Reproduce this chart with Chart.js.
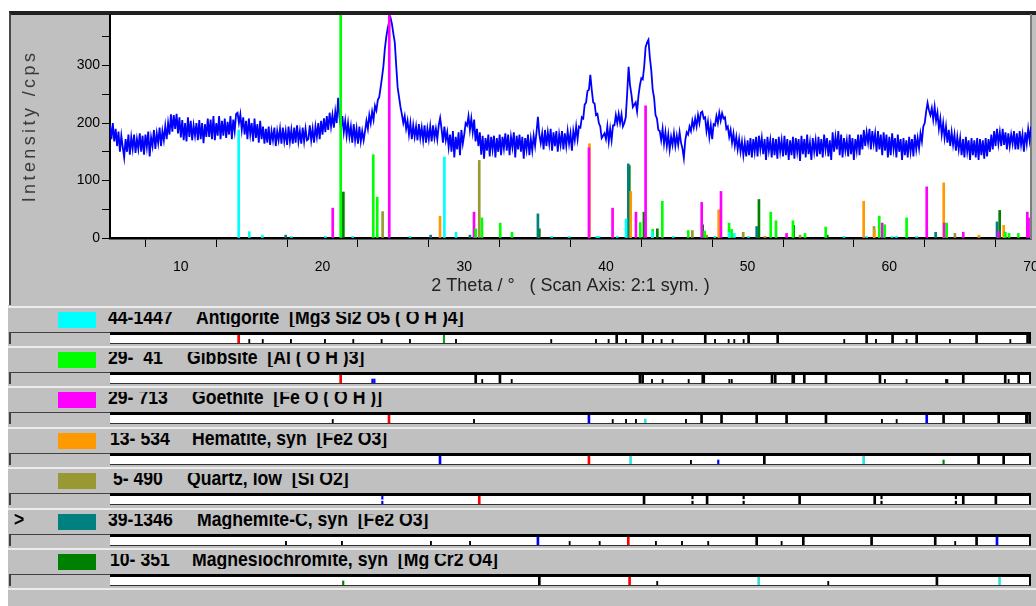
<!DOCTYPE html>
<html>
<head>
<meta charset="utf-8">
<script src="https://cdn.jsdelivr.net/npm/chart.js@4"></script>
<style>
body { margin:0; width:1036px; height:606px; overflow:hidden; position:relative; background:#fff; font-family:'Liberation Sans', Arial, sans-serif; }
.abs { position:absolute; box-sizing:border-box; }
#panel { left:9px; top:11px; width:1027px; height:294px; background:#c0c0c0; border-left:2px solid #4a4a4a; border-top:4px solid #202020; }
#rowsBg { left:8px; top:305px; width:1028px; height:301px; background:#c0c0c0; }
#ytitle { left:29px; top:126px; transform:translate(-50%,-50%) rotate(-90deg); white-space:nowrap; font:18px 'Liberation Sans', Arial, sans-serif; letter-spacing:3.4px; color:#3a3a3a; }
.sep { height:2px; left:8px; width:1028px; background:#ececec; }
.swatch { width:38px; height:16px; left:58px; }
.clip { height:15px; overflow:hidden; white-space:pre; }
.clip span { position:relative; top:-6.5px; display:block; transform:scaleX(0.84); transform-origin:0 0; font:bold 21px/21px 'Liberation Sans', Arial, sans-serif; color:#000; }
.lbox { left:9px; width:101px; height:12px; border-top:1px solid #404040; border-left:2px solid #404040; }
.sbox { left:110px; width:921px; height:12px; background:#fff; border-top:3px solid #000; border-right:2px solid #000; border-bottom:1px solid #333; }
</style>
</head>
<body>
<div id="panel" class="abs"></div>
<div id="rowsBg" class="abs"></div>
<canvas id="xrd" class="abs" width="1027" height="294" style="left:9px;top:11px;width:1027px;height:294px"></canvas>
<div id="ytitle" class="abs">Intensity /cps</div>
<div id="rows"></div>
<script>
// measured scan, 0.1 deg steps
const scanStart = 5, scanStep = 0.1;
const counts5to20 = [
  198,172,200,168,190,160,185,150,178,158, 140,172,150,180,145,175,155,180,148,172,
  155,182,150,178,145,180,158,185,142,175, 160,188,155,182,165,192,160,186,170,195,
  172,200,180,215,185,214,190,216,182,210, 175,205,170,200,168,210,176,204,170,196,
  178,200,170,205,172,200,165,198,176,208, 176,206,172,212,170,200,178,212,172,204,
  178,208,174,202,180,212,172,206,186,216, 218,200,215,188,210,180,204,172,208,180,
  200,168,208,174,198,166,204,172,194,164, 190,166,194,162,186,170,192,160,186,170,
  190,164,192,168,186,162,194,168,188,164, 192,166,196,168,186,164,192,168,190,170,
  172,196,170,190,166,194,176,200,172,204
];
const counts20to35 = [
  180,208,184,212,188,218,194,214,192,220, 200,244,210,190,212,184,204,178,200,176,
  194,166,198,170,190,164,194,168,186,170, 186,204,190,214,200,220,206,230,222,240,
  245,262,280,300,330,350,365,376,383,372, 355,340,300,262,245,228,215,200,212,190,
  204,180,200,172,196,176,194,170,198,174, 192,170,196,166,190,172,194,168,196,174,
  190,172,196,209,190,166,194,170,184,158, 180,150,186,140,176,154,184,144,188,164,
  180,200,196,212,188,208,184,206,168,190, 160,184,145,178,138,174,152,180,142,176,
  154,178,140,174,150,180,144,176,156,182, 152,180,144,176,158,184,140,178,154,180,
  150,176,138,174,154,180,144,172,152,178
];
const counts35to50 = [
  160,184,211,180,165,182,154,188,160,184, 164,190,152,184,160,186,150,180,162,186,
  154,182,160,186,164,182,152,186,170,194, 172,194,192,210,208,232,236,256,258,284,
  258,236,234,214,216,200,194,174,178,182, 172,194,168,190,170,196,196,214,200,216,
  200,215,194,200,210,252,298,266,250,228, 232,236,220,248,266,278,276,298,332,340,
  345,314,292,258,244,214,208,188,186,170, 190,164,184,160,180,154,176,162,182,160,
  178,162,184,166,156,139,170,184,180,194, 186,204,192,208,194,214,200,218,220,208,
  210,186,202,176,196,172,198,196,212,200, 218,204,217,208,210,190,194,176,188,166,
  182,160,176,154,172,150,168,144,166,142
];
const counts50to70 = [
  170,144,174,140,172,150,176,142,178,154, 174,146,172,136,176,152,170,140,174,144,
  172,138,176,150,170,142,178,144,172,136, 170,144,176,138,174,150,172,134,178,146,
  172,140,180,146,166,136,174,150,170,142, 176,146,172,140,180,154,174,142,170,136,
  184,150,176,154,186,144,180,140,174,152, 170,142,180,146,174,136,172,152,180,144,
  180,154,188,160,184,166,190,154,186,164, 182,150,186,154,180,144,184,152,180,140,
  176,144,182,154,174,140,180,150,172,136, 174,144,170,140,176,150,172,142,180,154,
  174,156,182,168,194,200,220,235,222,214, 226,206,228,204,218,190,208,180,200,174,
  194,166,188,160,184,162,180,152,176,154, 174,144,172,140,176,150,170,136,174,144,
  170,140,174,136,172,144,170,138,174,142, 172,150,180,154,186,160,190,164,184,160,
  190,162,184,154,182,160,180,164,186,154, 182,154,186,162,180,150,184,164,190,170,
  194
];

// reference patterns (2theta, intensity)
const phaseCodes = ['44-1447', '29-  41', '29- 713', '13- 534', ' 5- 490', '39-1346', '10- 351'];
const phaseNames = ['Antigorite  [Mg3 Si2 O5 ( O H )4]', 'Gibbsite  [Al ( O H )3]', 'Goethite  [Fe O ( O H )]',
  'Hematite, syn  [Fe2 O3]', 'Quartz, low  [Si O2]', 'Maghemite-C, syn  [Fe2 O3]', 'Magnesiochromite, syn  [Mg Cr2 O4]'];
const phaseColors = ['#00ffff', '#00ff00', '#ff00ff', '#ff9900', '#999933', '#008080', '#008000'];

const antigoritePos = [14.08,14.83,15.75,17.8,20.2,22.13,26.17,28.6,29.42,36.17,37.4,39.35,39.5,40.8,41.42,43.27,44.75,47.69,48.71,49.06,50.07,56.8,58.4,60.2,60.5,61.93];
const antigoriteInt = [188,11,5,3,3,3,3,141,10,3,3,3,3,3,33,11,3,3,10,8,3,3,3,3,3,3];
const gibbsitePos = [21.28,23.58,23.86,30.81,31.25,32.54,33.37,42.42,43.3,43.98,45.81,46.97,48.69,48.87,51.63,52.0,53.2,54.05,55.51,59.29,59.67,61.22,64.05,68.19,68.45,69.1];
const gibbsiteInt = [400,145,71,16,35,26,10,27,15,64,13,12,26,15,45,30,30,8,19,38,23,35,26,10,8,8];
const goethitePos = [20.72,24.71,30.69,38.8,40.47,42.12,42.8,46.76,48.12,52.75,59.5,62.64,63.88,65.22,67.69,69.74,69.83];
const goethiteInt = [52,400,45,157,52,45,230,62,81,8,26,89,26,10,12,45,35];
const hematitePos = [28.29,38.84,41.75,47.96,51.22,58.19,58.95,63.84,66.33,68.07];
const hematiteInt = [38,164,81,49,3,64,15,96,5,22];
const quartzPos = [24.24,31.06,46.1,47.11,49.69,53.7,58.92,64.63];
const quartzInt = [46,135,13,5,10,5,20,8];
const maghemitePos = [17.4,27.63,30.4,35.2,41.58,50.64,63.27,67.6];
const maghemiteInt = [5,5,5,42,129,20,10,28];
const chromitePos = [21.47,35.3,41.65,42.68,43.63,46.83,50.8,53.25,55.62,67.79];
const chromiteInt = [80,16,126,45,16,23,67,22,5,48];

// difference strips under each pattern: [2theta, mark kind]
const antigoriteStrip = [[14.08,'r'],[14.83,'t'],[15.78,'t'],[17.77,'t'],[20.17,'t'],[22.17,'t'],[24.17,'t'],[26.17,'t'],[28.57,'g'],[29.42,'t'],
  [36.14,'t'],[39.30,'t'],[40.19,'t'],[40.76,'d'],[41.42,'t'],[42.59,'d'],[43.32,'t'],[43.93,'t'],[44.71,'t'],[47.01,'d'],[47.70,'t'],[48.66,'t'],
  [49.06,'t'],[49.72,'t'],[50.07,'d'],[52.12,'d'],[56.82,'t'],[58.40,'d'],[59.06,'t'],[60.23,'d'],[61.22,'t'],[61.93,'d'],[64.28,'t'],[66.16,'d'],[68.54,'t'],[69.76,'d']];
const gibbsiteStrip = [[21.28,'r'],[23.52,'bs'],[23.66,'bs'],[30.81,'d'],[31.27,'t'],[32.52,'d'],[33.35,'t'],[42.40,'d'],[42.59,'d'],[43.25,'t'],[44.00,'t'],
  [45.84,'t'],[46.87,'D'],[48.71,'t'],[48.88,'t'],[51.72,'d'],[51.95,'d'],[53.22,'D'],[54.00,'d'],[55.53,'d'],[59.34,'d'],[59.69,'t'],[61.22,'t'],
  [64.05,'T'],[65.22,'d'],[68.18,'d'],[68.42,'t'],[69.13,'d']];
const goethiteStrip = [[20.72,'t'],[24.69,'r'],[30.69,'t'],[38.80,'b'],[40.48,'t'],[41.42,'t'],[42.12,'t'],[42.78,'cs'],[45.65,'t'],[46.75,'d'],[48.16,'d'],
  [50.64,'d'],[52.75,'d'],[55.53,'d'],[59.48,'t'],[60.52,'t'],[62.64,'b'],[63.83,'d'],[65.24,'d'],[67.72,'d'],[69.71,'D']];
const hematiteStrip = [[28.29,'b'],[38.80,'r'],[41.74,'c'],[46.00,'t'],[47.93,'bs'],[51.18,'d'],[58.19,'c'],[63.83,'gs'],[66.30,'d'],[68.07,'d']];
const quartzStrip = [[24.22,'bq'],[31.06,'r'],[42.69,'d'],[46.11,'q'],[47.14,'d'],[49.72,'q'],[53.67,'d'],[58.97,'d'],[59.45,'q'],[64.70,'q'],[65.22,'d'],[67.52,'d']];
const maghemiteStrip = [[17.42,'t'],[21.37,'t'],[27.65,'t'],[30.41,'t'],[35.20,'b'],[37.44,'t'],[39.56,'t'],[41.58,'r'],[43.53,'t'],[45.37,'t'],[47.22,'t'],
  [50.64,'d'],[52.40,'t'],[53.93,'d'],[58.75,'d'],[63.24,'d'],[64.65,'t'],[66.16,'d'],[67.60,'b']];
const chromiteStrip = [[21.46,'gs'],[35.30,'d'],[41.67,'r'],[43.62,'t'],[50.78,'c'],[55.69,'t'],[63.36,'d'],[67.78,'c']];

const stickPos = [antigoritePos, gibbsitePos, goethitePos, hematitePos, quartzPos, maghemitePos, chromitePos];
const stickInt = [antigoriteInt, gibbsiteInt, goethiteInt, hematiteInt, quartzInt, maghemiteInt, chromiteInt];
const strips = [antigoriteStrip, gibbsiteStrip, goethiteStrip, hematiteStrip, quartzStrip, maghemiteStrip, chromiteStrip];

// layout of the label rows
const codeLeft = [108, 108, 108, 110, 108, 108, 110];
const nameLeft = [196, 187, 192, 192, 187, 197, 192];

const tickFont = { family: "'Liberation Sans Narrow', 'Liberation Sans', sans-serif", size: 14 };

const counts = [].concat(counts5to20, counts20to35, counts35to50, counts50to70);
const scan = counts.map((c, i) => ({ x: +(scanStart + i * scanStep).toFixed(1), y: c }));

const stickSets = phaseColors.map((col, p) => ({
  type: 'bar',
  data: stickPos[p].map((x, k) => ({ x: x, y: stickInt[p][k] })),
  backgroundColor: col,
  barThickness: 2,
  grouped: false,
  order: 0
}));

const plotBg = {
  id: 'plotBg',
  beforeDraw(c) {
    const a = c.chartArea, g = c.ctx;
    g.save();
    g.fillStyle = '#fff';
    g.fillRect(a.left, a.top, a.right - a.left, a.bottom - a.top);
    g.restore();
  }
};

function noPad(s) { s.paddingTop = 0; s.paddingBottom = 0; s.paddingLeft = 0; s.paddingRight = 0; }

new Chart(document.getElementById('xrd'), {
  type: 'line',
  data: {
    datasets: stickSets.concat([{
      type: 'line',
      data: scan,
      borderColor: '#0000ff',
      borderWidth: 1.8,
      pointRadius: 0,
      tension: 0,
      order: 1
    }])
  },
  options: {
    responsive: false,
    animation: false,
    events: [],
    devicePixelRatio: 1,
    layout: { padding: { top: 4, left: 0, right: 0, bottom: 0 } },
    plugins: { legend: { display: false }, tooltip: { enabled: false } },
    scales: {
      x: {
        type: 'linear', min: 5, max: 70, offset: false,
        grid: { drawOnChartArea: false, drawTicks: true, tickLength: 9, tickColor: '#000' },
        border: { color: '#000', width: 2.5 },
        ticks: { stepSize: 5, autoSkip: false, maxRotation: 0, padding: 12, color: '#000', font: tickFont,
                 callback: v => (v % 10 === 0 ? String(v) : '') },
        title: { display: true, text: '2 Theta / °   ( Scan Axis: 2:1 sym. )', color: '#222',
                 font: { family: "'Liberation Sans', Arial, sans-serif", size: 18 }, padding: { top: 0, bottom: 8 } },
        afterFit(s) { s.height = 67; noPad(s); }
      },
      y: {
        type: 'linear', min: 0, max: 388,
        grid: { drawOnChartArea: false, drawTicks: true, tickLength: 8, tickColor: '#000' },
        border: { color: '#000', width: 2 },
        ticks: { stepSize: 50, includeBounds: false, padding: 2, color: '#000', font: tickFont,
                 callback: v => (v % 100 === 0 ? String(v) : '') },
        afterFit(s) { s.width = 101; noPad(s); }
      },
      y2: {
        position: 'right', min: 0, max: 1,
        grid: { display: false, drawTicks: false },
        ticks: { display: false },
        border: { display: true, color: '#7c7c7c', width: 2 },
        afterFit(s) { s.width = 5; noPad(s); }
      }
    }
  },
  plugins: [plotBg]
});

// strip mark styles
const markStyle = {
  d: { color: '#000', segs: [[0, 1]], w: 2 },
  D: { color: '#000', segs: [[0, 1]], w: 3 },
  t: { color: '#000', segs: [[0, 0.45]], w: 1.2 },
  T: { color: '#000', segs: [[0, 0.45]], w: 2.5 },
  q: { color: '#000', segs: [[0, 0.35], [0.65, 1]], w: 1.5 },
  bq: { color: '#0000ff', segs: [[0, 0.35], [0.6, 1]], w: 1.5 },
  r: { color: '#ff0000', segs: [[0, 1]], w: 2 },
  b: { color: '#0000ff', segs: [[0, 1]], w: 2 },
  bs: { color: '#0000ff', segs: [[0, 0.5]], w: 1.5 },
  c: { color: '#33e0e0', segs: [[0, 1]], w: 2 },
  cs: { color: '#33e0e0', segs: [[0, 0.5]], w: 2 },
  g: { color: '#1a9a1a', segs: [[0, 1]], w: 1.5 },
  gs: { color: '#008000', segs: [[0, 0.5]], w: 1.5 }
};

const rows = document.getElementById('rows');
function addDiv(cls, css) {
  const d = document.createElement('div');
  d.className = 'abs ' + cls;
  d.style.cssText = css;
  rows.appendChild(d);
  return d;
}
function addText(css, text) {
  const c = addDiv('clip', css);
  c.appendChild(Object.assign(document.createElement('span'), { textContent: text }));
}

phaseNames.forEach((name, i) => {
  const T = Math.round(306.5 + 40.4 * i);
  addDiv('sep', 'top:' + (T - 1) + 'px');
  addDiv('swatch', 'top:' + (T + 5) + 'px;background:' + phaseColors[i]);
  addText('top:' + (T + 5) + 'px;left:' + codeLeft[i] + 'px;width:90px', phaseCodes[i]);
  addText('top:' + (T + 5) + 'px;left:' + nameLeft[i] + 'px;width:600px', name);
  if (i === 5) addText('top:' + (T + 5) + 'px;left:14px;width:14px', '>');
  addDiv('lbox', 'top:' + (T + 25) + 'px');
  addDiv('sbox', 'top:' + (T + 25) + 'px');

  const cv = document.createElement('canvas');
  cv.className = 'abs';
  cv.width = 921; cv.height = 8;
  cv.style.cssText = 'left:110px;top:' + (T + 28) + 'px;width:921px;height:8px';
  rows.appendChild(cv);

  const kinds = [...new Set(strips[i].map(m => m[1]))];
  const sets = kinds.map(k => {
    const st = markStyle[k];
    const pts = [];
    strips[i].filter(m => m[1] === k).forEach(m => st.segs.forEach(s => pts.push({ x: m[0], y: s })));
    return { type: 'bar', data: pts, backgroundColor: st.color, barThickness: st.w, grouped: false };
  });
  new Chart(cv, {
    type: 'bar',
    data: { datasets: sets },
    options: {
      responsive: false, animation: false, events: [], devicePixelRatio: 1,
      layout: { padding: 0 },
      plugins: { legend: { display: false }, tooltip: { enabled: false } },
      scales: {
        x: { type: 'linear', min: 5, max: 70, offset: false, display: false },
        y: { min: 0, max: 1, display: false }
      }
    }
  });
});
addDiv('sep', 'top:' + (Math.round(306.5 + 40.4 * 7) - 1) + 'px');
</script>
</body>
</html>
